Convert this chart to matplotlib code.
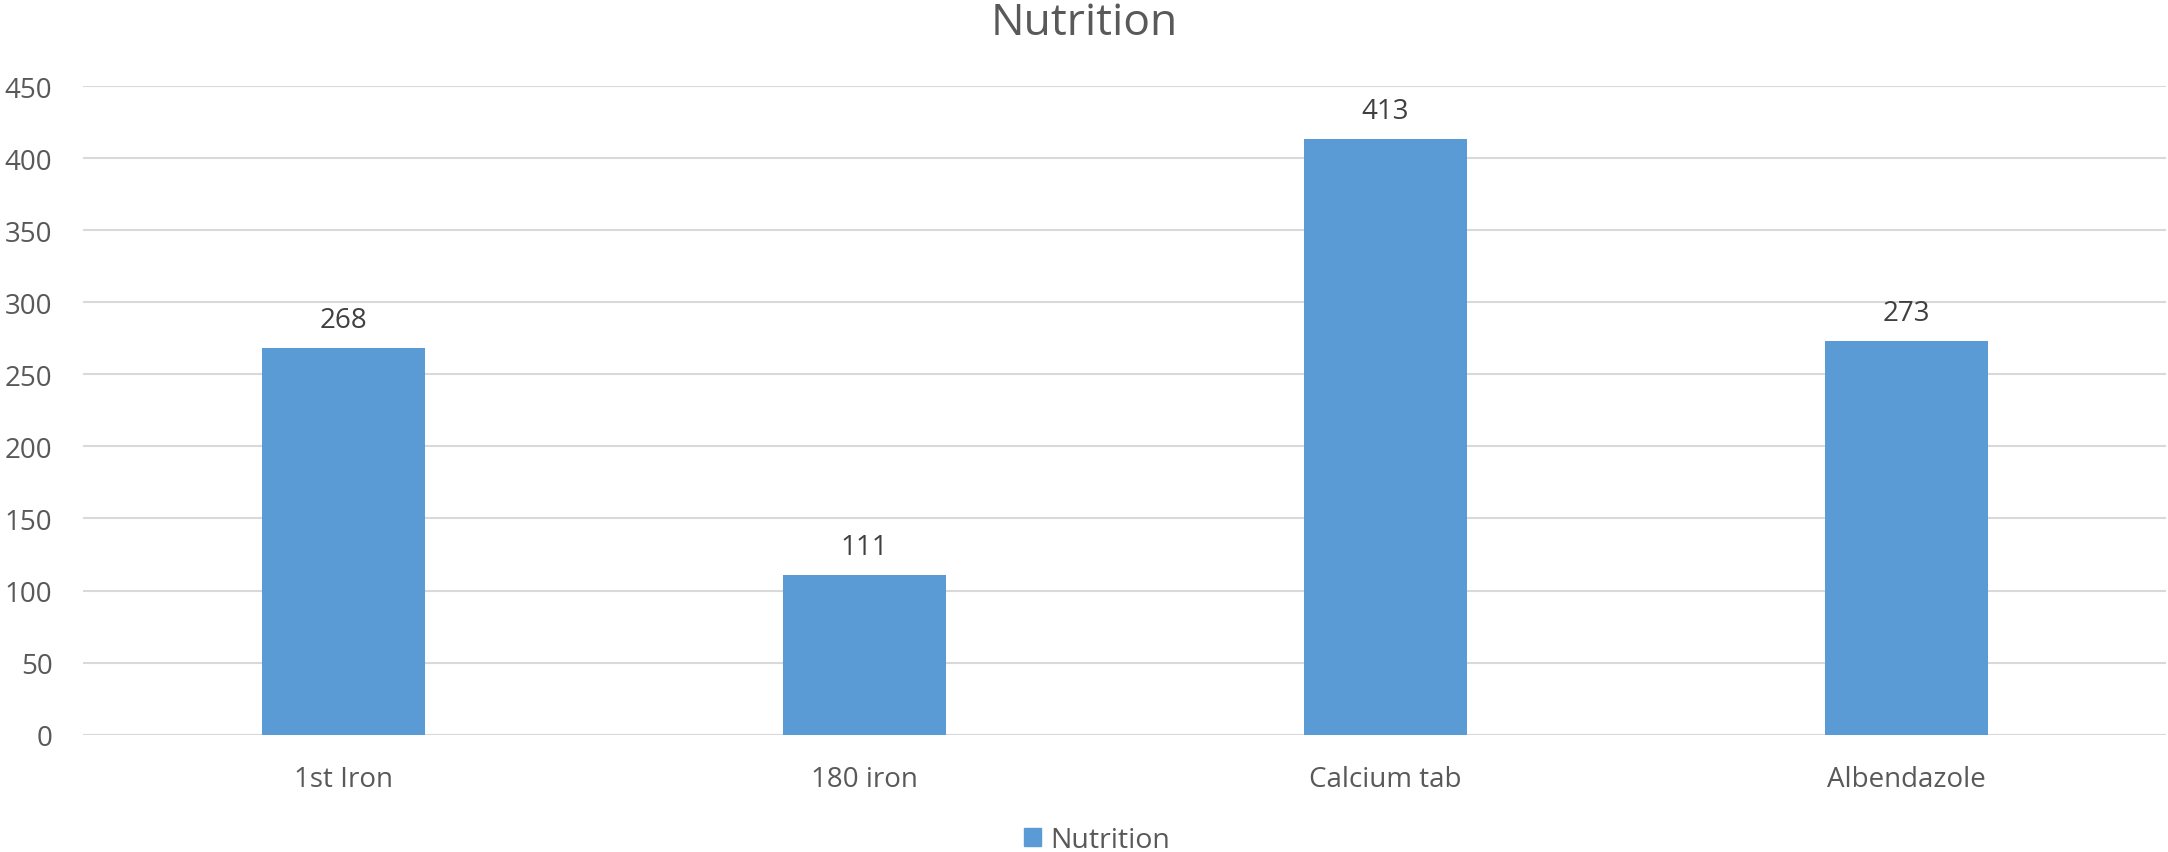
import matplotlib

matplotlib.use("Agg")
import matplotlib.pyplot as plt
from matplotlib.patches import Patch

categories = ["1st Iron", "180 iron", "Calcium tab", "Albendazole"]
values = [268, 111, 413, 273]
yticks = [0, 50, 100, 150, 200, 250, 300, 350, 400, 450]

BAR = "#5B9BD5"
GREY = "#595959"
plt.rcParams["font.family"] = ["Open Sans", "DejaVu Sans"]

fig = plt.figure(figsize=(21.68, 8.53), dpi=100)
ax = fig.add_axes([0.0383, 0.1375, 0.961, 0.7605])

x = range(len(categories))
bars = ax.bar(x, values, width=0.313, color=BAR, zorder=3)
for b, v in zip(bars, values):
    ax.annotate(str(v), (b.get_x() + b.get_width() / 2, v), xytext=(0, 10),
                textcoords="offset points", ha="center", va="bottom",
                fontsize=20, color="#404040")

ax.set_xlim(-0.5, len(categories) - 0.5)
ax.set_ylim(0, 450)
ax.set_yticks(yticks)
ax.set_xticks(list(x))
ax.set_xticklabels(categories)
ax.yaxis.grid(True, color="#D9D9D9", lw=1.5, zorder=0)
for s in ax.spines.values():
    s.set_visible(False)
ax.axhline(0, color="#D9D9D9", lw=1.5, zorder=1)
ax.tick_params(length=0, labelsize=20, colors=GREY)
ax.tick_params(axis="y", pad=22)
ax.tick_params(axis="x", pad=22)
for t in ax.get_yticklabels():
    t.set_horizontalalignment("right")

fig.text(0.5, 0.972, "Nutrition", ha="center", va="center", fontsize=32, color=GREY)
fig.legend(handles=[Patch(color=BAR, label="Nutrition")], loc="center",
           bbox_to_anchor=(0.506, 0.014), frameon=False, fontsize=20.5,
           handlelength=0.6, handleheight=0.6, handletextpad=0.3,
           labelcolor=GREY)

fig.savefig("out.png", dpi=100)
